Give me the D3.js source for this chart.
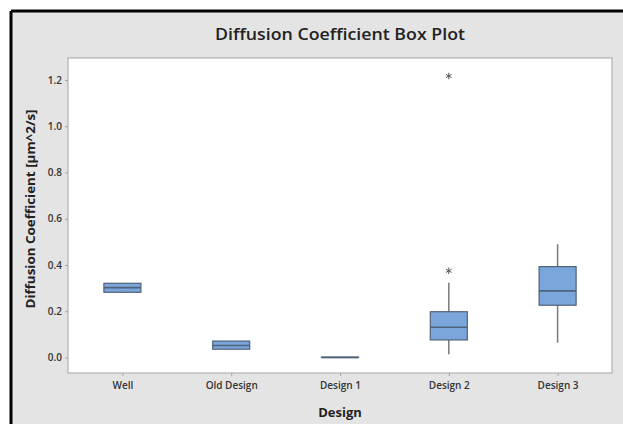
<!DOCTYPE html>
<html>
<head>
<meta charset="utf-8">
<script src="https://cdn.jsdelivr.net/npm/d3@7"></script>
<style>
  body { margin: 0; background: #fff; }
  text { font-family: "Open Sans", "DejaVu Sans", sans-serif; }
</style>
</head>
<body>
<div id="chart"></div>
<script>
var svgWidth = 623;
var svgHeight = 424;

var margin = { top: 58, right: 11, bottom: 51, left: 68 };
var width = svgWidth - margin.left - margin.right;
var height = svgHeight - margin.top - margin.bottom;

// data
var designs = ["Well", "Old Design", "Design 1", "Design 2", "Design 3"];
var q1 = [0.282, 0.036, 0.000, 0.076, 0.226];
var medians = [0.302, 0.052, 0.000, 0.131, 0.288];
var q3 = [0.321, 0.071, 0.002, 0.198, 0.393];
var whiskerLow = [0.282, 0.036, 0.000, 0.014, 0.064];
var whiskerHigh = [0.321, 0.071, 0.002, 0.323, 0.490];
var outlierDesign = ["Design 2", "Design 2"];
var outlierValue = [0.375, 1.217];
var yTicks = [0.0, 0.2, 0.4, 0.6, 0.8, 1.0, 1.2];

var svg = d3.select("#chart")
  .append("svg")
  .attr("width", svgWidth)
  .attr("height", svgHeight);

// grey panel with the black frame (top and left)
svg.append("rect")
  .attr("x", 11).attr("y", 11)
  .attr("width", svgWidth - 11).attr("height", svgHeight - 11)
  .attr("fill", "#e4e4e4");
svg.append("line")
  .attr("x1", 11).attr("x2", svgWidth).attr("y1", 11).attr("y2", 11)
  .attr("stroke", "#000").attr("stroke-width", 3);
svg.append("line")
  .attr("x1", 11).attr("x2", 11).attr("y1", 11).attr("y2", svgHeight)
  .attr("stroke", "#000").attr("stroke-width", 3);

var chartGroup = svg.append("g")
  .attr("transform", `translate(${margin.left}, ${margin.top})`);

chartGroup.append("rect")
  .attr("width", width).attr("height", height)
  .attr("fill", "#fff")
  .attr("stroke", "#a3a3a3");

var xScale = d3.scalePoint()
  .domain(designs)
  .range([0, width])
  .padding(0.5);

var yScale = d3.scaleLinear()
  .domain([-0.067, 1.295])
  .range([height, 0]);

// axes
var bottomAxis = d3.axisBottom(xScale).tickSize(3).tickPadding(6);
var leftAxis = d3.axisLeft(yScale).tickValues(yTicks).tickSize(3).tickPadding(3)
  .tickFormat(d3.format(".1f"));

var xAxis = chartGroup.append("g")
  .attr("transform", `translate(0, ${height})`)
  .call(bottomAxis);
var yAxis = chartGroup.append("g").call(leftAxis);

[xAxis, yAxis].forEach(function(ax) {
  ax.select(".domain").remove();
  ax.selectAll(".tick line").attr("stroke", "#a3a3a3");
  ax.selectAll(".tick text")
    .attr("fill", "#333")
    .style("font-size", "10px")
    .style("font-weight", "600");
});

// boxes
var boxWidth = 37;
var boxes = chartGroup.selectAll(".box")
  .data(designs)
  .enter()
  .append("g")
  .attr("class", "box");

boxes.append("line")
  .attr("x1", d => xScale(d)).attr("x2", d => xScale(d))
  .attr("y1", (d, i) => yScale(whiskerHigh[i]))
  .attr("y2", (d, i) => yScale(whiskerLow[i]))
  .attr("stroke", "#7a7a7a").attr("stroke-width", 1.5);

boxes.append("rect")
  .attr("x", d => xScale(d) - boxWidth / 2)
  .attr("width", boxWidth)
  .attr("y", (d, i) => yScale(q3[i]))
  .attr("height", (d, i) => Math.max(yScale(q1[i]) - yScale(q3[i]), 0.5))
  .attr("fill", (d, i) => q3[i] - q1[i] > 0.01 ? "#7ba6dc" : "none")
  .attr("stroke", "#4f6277").attr("stroke-width", 1.2);

boxes.append("line")
  .attr("x1", d => xScale(d) - boxWidth / 2)
  .attr("x2", d => xScale(d) + boxWidth / 2)
  .attr("y1", (d, i) => yScale(medians[i]))
  .attr("y2", (d, i) => yScale(medians[i]))
  .attr("stroke", "#4f6277").attr("stroke-width", 1.6);

// outliers (asterisks)
chartGroup.selectAll(".outlier")
  .data(outlierValue)
  .enter()
  .append("path")
  .attr("class", "outlier")
  .attr("d", d3.symbol(d3.symbolAsterisk, 30))
  .attr("transform", (d, i) => `translate(${xScale(outlierDesign[i])}, ${yScale(d)})`)
  .attr("fill", "none")
  .attr("stroke", "#555").attr("stroke-width", 1);

// titles
svg.append("text")
  .attr("x", margin.left + width / 2)
  .attr("y", 40)
  .attr("text-anchor", "middle")
  .attr("fill", "#222")
  .attr("textLength", 250)
  .attr("lengthAdjust", "spacingAndGlyphs")
  .style("font-size", "17px")
  .style("font-weight", "600")
  .text("Diffusion Coefficient Box Plot");

svg.append("text")
  .attr("x", margin.left + width / 2)
  .attr("y", 417)
  .attr("text-anchor", "middle")
  .attr("fill", "#222")
  .style("font-size", "13px")
  .style("font-weight", "700")
  .text("Design");

svg.append("text")
  .attr("transform", "rotate(-90)")
  .attr("x", -209)
  .attr("y", 35)
  .attr("text-anchor", "middle")
  .attr("fill", "#222")
  .attr("textLength", 199)
  .attr("lengthAdjust", "spacingAndGlyphs")
  .style("font-size", "13px")
  .style("font-weight", "700")
  .text("Diffusion Coefficient [µm^2/s]");
</script>
</body>
</html>
